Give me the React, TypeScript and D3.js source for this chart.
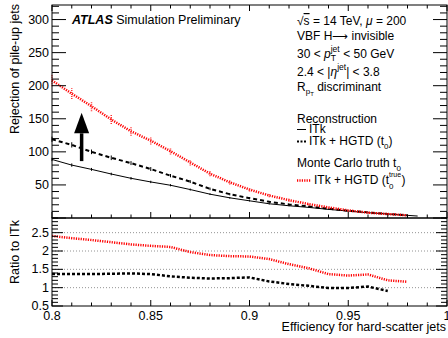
import * as d3 from "d3";

// efficiency grid (x) for the rejection curves
const EFF = [0.8, 0.81, 0.82, 0.83, 0.84, 0.85, 0.86, 0.87, 0.88, 0.89, 0.9, 0.91, 0.92, 0.93, 0.94, 0.95, 0.96, 0.97, 0.98, 0.985];

// rejection of pile-up jets
const REJ_ITK = [88.5, 80, 73.5, 66.5, 60, 54.5, 49.5, 43, 36, 30.5, 26, 21.5, 18.5, 16, 13, 10.5, 8, 6, 4, 3];
const ERR_ITK = [2.5, 2.5, 2.2, 2, 2, 1.8, 1.6, 1.5, 1.3, 1.2, 1, 1, 0.8, 0.8, 0.6, 0.5, 0.5, 0.4, 0.3, 0.3];
const REJ_HGTD = [119, 110.5, 100, 91, 83, 74, 64, 55, 44, 36, 30, 24.5, 20.5, 17.5, 14, 11, 8.5, 6, 4];
const ERR_HGTD = [4, 4, 3.5, 3.5, 3, 3, 2.5, 2.2, 2, 1.8, 1.5, 1.3, 1.1, 1, 0.8, 0.7, 0.6, 0.5, 0.4];
const REJ_TRUTH = [208, 188, 169, 149, 131, 117, 101, 84, 67, 54, 43, 34, 27, 21, 16, 11.5, 8, 6, 4];
const ERR_TRUTH = [9, 8, 7.5, 7, 6.5, 6, 5, 4.5, 4, 3.5, 3, 2.5, 2, 1.8, 1.5, 1.2, 1, 0.8, 0.6];

// ratio to ITk
const RATIO_HGTD = [1.37, 1.37, 1.37, 1.38, 1.39, 1.37, 1.31, 1.27, 1.25, 1.26, 1.28, 1.17, 1.1, 1.05, 0.99, 0.99, 1.03, 0.91];
const RATIO_TRUTH = [2.41, 2.35, 2.3, 2.24, 2.18, 2.14, 2.11, 1.97, 1.89, 1.86, 1.85, 1.78, 1.64, 1.53, 1.37, 1.33, 1.36, 1.2, 1.16];

const X_TICKS = [0.8, 0.85, 0.9, 0.95, 1];
const TOP_TICKS = [50, 100, 150, 200, 250, 300];
const RATIO_TICKS = [0.5, 1, 1.5, 2, 2.5];
const RATIO_GRID = [1, 1.5, 2, 2.5];

// arrow annotation (efficiency, rejection values)
const ARROW_X = 0.815;
const ARROW_FROM = 86;
const ARROW_HEAD = 128;
const ARROW_TO = 159;

const FONT = "'Liberation Sans', Arial, Helvetica, sans-serif";

export default function App() {
  const W = 448, H = 338;
  const L = 52, R = 447, T = 5, M = 218, B = 306;

  const x = d3.scaleLinear().domain([0.8, 1]).range([L, R]);
  const yTop = d3.scaleLinear().domain([0, 322]).range([M, T]);
  const yRat = d3.scaleLinear().domain([0.5, 2.9]).range([B, M]);

  const pts = (vals: number[]) => vals.map((v, i) => [EFF[i], v] as [number, number]);
  const topLine = d3.line<[number, number]>().x((d) => x(d[0])).y((d) => yTop(d[1]));
  const ratLine = d3.line<[number, number]>().x((d) => x(d[0])).y((d) => yRat(d[1]));

  const xMinor = d3.range(80, 101).map((i) => i / 100);
  const topMinor = d3.range(0, 33).map((i) => i * 10);
  const ratMinor = d3.range(5, 30).map((i) => i / 10);

  const errBars = (vals: number[], errs: number[], color: string, dash?: string) =>
    vals.map((v, i) => (
      <line key={i} x1={x(EFF[i])} x2={x(EFF[i])} y1={yTop(v - errs[i])} y2={yTop(v + errs[i])}
        stroke={color} strokeWidth={dash ? 1.5 : 1} strokeDasharray={dash} />
    ));

  const ax = x(ARROW_X);

  return (
    <svg width={W} height={H} style={{ position: "absolute", left: 0, top: 0, background: "#fff" }}
      fontFamily={FONT}>
      <rect width={W} height={H} fill="#fff" />

      {/* ratio grid */}
      {RATIO_GRID.map((v) => (
        <line key={v} x1={L} x2={R} y1={yRat(v)} y2={yRat(v)} stroke="#777" strokeWidth={0.8} strokeDasharray="1 2" />
      ))}

      {/* top panel curves */}
      <path d={topLine(pts(REJ_ITK))!} fill="none" stroke="#000" strokeWidth={1} />
      {errBars(REJ_ITK, ERR_ITK, "#000")}
      <path d={topLine(pts(REJ_HGTD))!} fill="none" stroke="#000" strokeWidth={2} strokeDasharray="4 3" />
      {errBars(REJ_HGTD, ERR_HGTD, "#000")}
      <path d={topLine(pts(REJ_TRUTH))!} fill="none" stroke="#f00" strokeWidth={2.5} strokeDasharray="1.2 1.2" />
      {errBars(REJ_TRUTH, ERR_TRUTH, "#f33", "1 1")}

      {/* ratio curves */}
      <path d={ratLine(pts(RATIO_TRUTH))!} fill="none" stroke="#f00" strokeWidth={2.5} strokeDasharray="1.2 1.2" />
      <path d={ratLine(pts(RATIO_HGTD))!} fill="none" stroke="#000" strokeWidth={2.5} strokeDasharray="3 2" />

      {/* arrow */}
      <line x1={ax} x2={ax} y1={yTop(ARROW_FROM)} y2={yTop(ARROW_HEAD)} stroke="#000" strokeWidth={3.5} />
      <polygon
        points={`${ax},${yTop(ARROW_TO)} ${ax - 7.5},${yTop(ARROW_HEAD)} ${ax + 7.5},${yTop(ARROW_HEAD)}`}
        fill="#000" />

      {/* frames */}
      <rect x={L} y={T} width={R - L} height={M - T} fill="none" stroke="#000" strokeWidth={1} />
      <rect x={L} y={M} width={R - L} height={B - M} fill="none" stroke="#000" strokeWidth={1} />

      {/* x ticks */}
      {xMinor.map((v, i) => {
        const major = i % 5 === 0;
        const xx = x(v);
        return (
          <g key={i} stroke="#000" strokeWidth={1}>
            <line x1={xx} x2={xx} y1={T} y2={T + (major ? 6 : 3.5)} />
            <line x1={xx} x2={xx} y1={M} y2={M - (major ? 6 : 3.5)} />
            <line x1={xx} x2={xx} y1={B} y2={B - (major ? 6 : 3.5)} />
          </g>
        );
      })}
      {X_TICKS.map((v) => (
        <text key={v} x={x(v)} y={319.5} textAnchor="middle" fontSize={12.5}>{v}</text>
      ))}

      {/* top y ticks */}
      {topMinor.map((v) => {
        const major = v % 50 === 0;
        const len = major ? 14 : 7;
        return (
          <g key={v} stroke="#000" strokeWidth={1}>
            <line x1={L} x2={L + len} y1={yTop(v)} y2={yTop(v)} />
            <line x1={R} x2={R - len} y1={yTop(v)} y2={yTop(v)} />
          </g>
        );
      })}
      {TOP_TICKS.map((v) => (
        <text key={v} x={49} y={yTop(v)} textAnchor="end" dominantBaseline="central" fontSize={12.5}>{v}</text>
      ))}

      {/* ratio y ticks */}
      {ratMinor.map((v, i) => {
        const major = i % 5 === 0;
        const len = major ? 11 : 6;
        return (
          <g key={i} stroke="#000" strokeWidth={1}>
            <line x1={L} x2={L + len} y1={yRat(v)} y2={yRat(v)} />
            <line x1={R} x2={R - len} y1={yRat(v)} y2={yRat(v)} />
          </g>
        );
      })}
      {RATIO_TICKS.map((v) => (
        <text key={v} x={49} y={yRat(v)} textAnchor="end" dominantBaseline="central" fontSize={12.5}>{v}</text>
      ))}

      {/* axis titles */}
      <text transform={`translate(19,4) rotate(-90)`} textAnchor="end" fontSize={12.5}>Rejection of pile-up jets</text>
      <text transform={`translate(19,220) rotate(-90)`} textAnchor="end" fontSize={12.5}>Ratio to ITk</text>
      <text x={446} y={330.5} textAnchor="end" fontSize={12.5}>Efficiency for hard-scatter jets</text>

      {/* ATLAS label */}
      <text x={72} y={24} fontSize={12.5}>
        <tspan fontWeight="bold" fontStyle="italic">ATLAS</tspan>
        <tspan> Simulation Preliminary</tspan>
      </text>

      {/* info block */}
      <g fontSize={12}>
        <text x={297} y={25}>
          <tspan>√</tspan><tspan style={{ textDecoration: "overline" }}>s</tspan>
          <tspan> = 14 TeV, </tspan><tspan fontStyle="italic">μ</tspan><tspan> = 200</tspan>
        </text>
        <text x={297} y={39.5}>
          <tspan>VBF H</tspan><tspan fontFamily="'DejaVu Sans', sans-serif" fontSize={11}>⟶</tspan><tspan> invisible</tspan>
        </text>
        <text x={297} y={58}>
          <tspan>30 &lt; </tspan><tspan fontStyle="italic">p</tspan>
          <tspan fontSize={8.5} dy={-6}>jet</tspan>
          <tspan fontSize={8.5} dx={-9} dy={9}>T</tspan>
          <tspan dx={4} dy={-3}> &lt; 50 GeV</tspan>
        </text>
        <text x={297} y={75.5}>
          <tspan>2.4 &lt; |</tspan><tspan fontStyle="italic">η</tspan>
          <tspan fontSize={8.5} dy={-6}>jet</tspan>
          <tspan dy={6}>| &lt; 3.8</tspan>
        </text>
        <text x={297} y={91}>
          <tspan>R</tspan><tspan fontSize={8} dy={3}>p</tspan><tspan fontSize={6} dy={1.5}>T</tspan>
          <tspan dy={-4.5}> discriminant</tspan>
        </text>

        <text x={297} y={122.7}>Reconstruction</text>
        <line x1={297} x2={306} y1={129.5} y2={129.5} stroke="#000" strokeWidth={1} />
        <text x={309} y={133.3}>ITk</text>
        <line x1={297} x2={306} y1={141.5} y2={141.5} stroke="#000" strokeWidth={2} strokeDasharray="2 1.5" />
        <text x={309} y={145}>
          <tspan>ITk + HGTD (t</tspan><tspan fontSize={8} dy={4}>0</tspan><tspan dy={-4}>)</tspan>
        </text>
        <text x={297} y={167}>
          <tspan>Monte Carlo truth t</tspan><tspan fontSize={8} dy={4}>0</tspan>
        </text>
        <line x1={297} x2={311} y1={180.5} y2={180.5} stroke="#f00" strokeWidth={2.5} strokeDasharray="1.2 1.2" />
        <text x={314} y={184}>
          <tspan>ITk + HGTD (t</tspan>
          <tspan fontSize={7} dy={-7}>true</tspan>
          <tspan fontSize={8} dx={-12} dy={12}>0</tspan>
          <tspan dx={8} dy={-5}>)</tspan>
        </text>
      </g>
    </svg>
  );
}
